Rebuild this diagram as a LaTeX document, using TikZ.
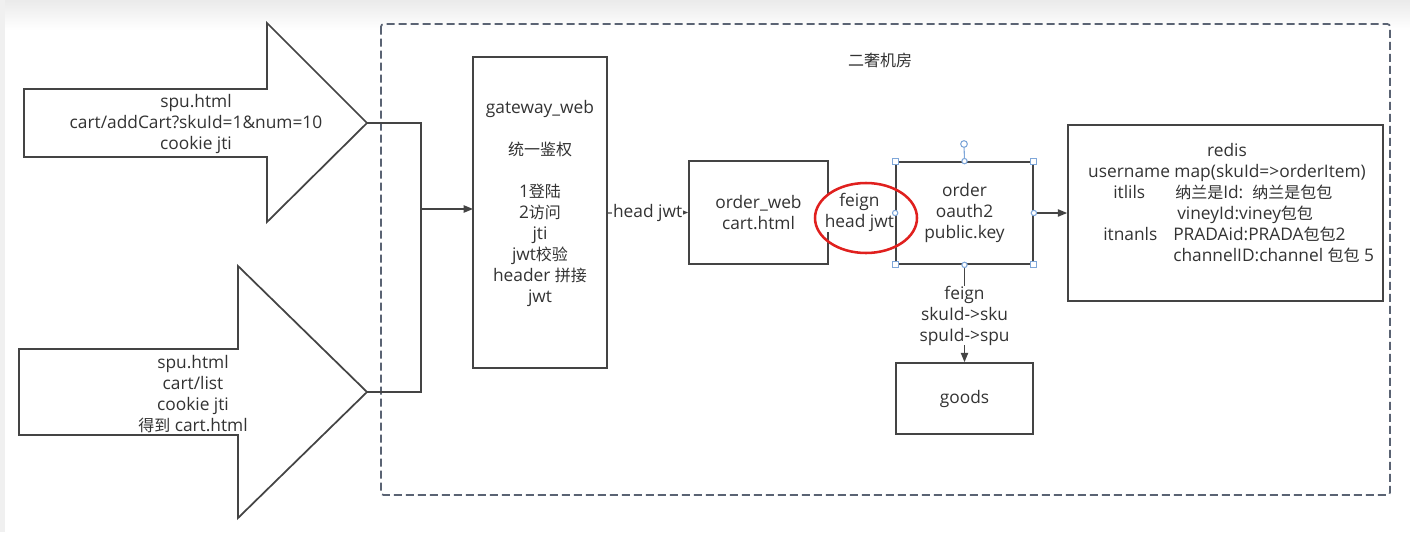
\documentclass[tikz,border=0pt]{standalone}
\usepackage{fontspec}
\setmainfont{Open Sans}
\newfontfamily\cjkfont{Noto Sans CJK SC}
\newcommand{\zh}[1]{{\cjkfont\fontsize{12}{15.75}\selectfont #1}}
\usetikzlibrary{arrows.meta}
\definecolor{txt}{HTML}{333333}
\definecolor{ln}{HTML}{444444}
\definecolor{dsh}{HTML}{5A6373}
\definecolor{hdl}{HTML}{7FA7D9}
\definecolor{redc}{HTML}{E0201E}
\tikzset{
  box/.style={draw=ln, line width=1.3pt, fill=white, inner sep=0pt, text=txt, align=center,
    font=\fontsize{13}{15.75}\selectfont},
  lbl/.style={text=txt, align=center, font=\fontsize{13}{15.75}\selectfont, inner sep=1pt},
  conn/.style={draw=ln, line width=1pt},
  arr/.style={conn, -{Triangle[length=7pt,width=5.5pt]}},
  bigarrow/.style={draw=ln, line width=1.3pt, fill=white, line join=miter},
  hsq/.style={draw=hdl, fill=white, line width=0.8pt, minimum size=4.5pt, inner sep=0pt},
  hci/.style={draw=hdl, fill=white, line width=0.8pt, circle, minimum size=5pt, inner sep=0pt},
}
\begin{document}
\begin{tikzpicture}[x=0.75pt,y=-0.75pt]
\useasboundingbox (0,0) rectangle (1410,532);
% background
\fill[white] (0,0) rectangle (1410,532);
\shade[top color={black!8}, bottom color=white] (0,0) rectangle (1410,30);
\fill[black!6] (0,0) rectangle (5,532);

% dashed container
\draw[dsh, line width=1.3pt, dash pattern=on 6pt off 3pt, rounded corners=2pt] (381,24) rectangle (1390,495);
\node[lbl] (title) at (880,60) {\zh{二奢机房}};

% big arrows
\draw[bigarrow] (24,89) -- (267,89) -- (267,23) -- (367,123) -- (267,222) -- (267,157) -- (24,157) -- cycle;
\node[lbl] (a1) at (196,124) {spu.html\\cart/addCart?skuId=1\&num=10\\cookie jti};
\draw[bigarrow] (19,349) -- (238,349) -- (238,266) -- (367,392) -- (238,518) -- (238,435) -- (19,435) -- cycle;
\node[lbl] (a2) at (193,394) {spu.html\\cart/list\\cookie jti\\\zh{得到} cart.html};
\coordinate (tip1) at (367,123);
\coordinate (tip2) at (367,392);
\coordinate (jn) at (421,209);

% boxes
\node[box, minimum width=100.5pt, minimum height=233.25pt] (gw) at (540,212.5) {};
\coordinate (gwW) at (473,209);
\coordinate (gwE) at (607,213);
\node[lbl] (gwt) at (540,203.5) {gateway\_web\\ \\\zh{统一鉴权}\\ \\1\zh{登陆}\\2\zh{访问}\\jti\\jwt\zh{校验}\\header \zh{拼接}\\jwt};

\node[box, minimum width=104.25pt, minimum height=77.25pt] (ow) at (758.5,212.5) {order\_web\\cart.html};
\node[box, minimum width=102.75pt, minimum height=76.5pt] (ord) at (964.5,213) {order\\oauth2\\public.key};
\node[box, minimum width=236.25pt, minimum height=132pt] (redis) at (1225.5,213) {};
\node[box, minimum width=102.75pt, minimum height=53.25pt] (goods) at (964.5,398.5) {goods};

% redis text
\node[lbl, anchor=base] (r0) at (1227,156) {redis};
\node[lbl, anchor=base] (r1) at (1227,177) {username map(skuId=>orderItem)};
\node[lbl, anchor=base west, inner sep=0pt] (r2a) at (1113,198) {itlils};
\node[lbl, anchor=base west, inner sep=0pt] (r2b) at (1175,198) {\zh{纳兰是}Id:\ \ \zh{纳兰是包包}};
\node[lbl, anchor=base west, inner sep=0pt] (r3) at (1177,219) {vineyId:viney\zh{包包}};
\node[lbl, anchor=base west, inner sep=0pt] (r4a) at (1103,240) {itnanls};
\node[lbl, anchor=base west, inner sep=0pt] (r4b) at (1173,240) {PRADAid:PRADA\zh{包包}2};
\node[lbl, anchor=base west, inner sep=0pt] (r5) at (1173,261) {channelID:channel \zh{包包} 5};

% connectors
\draw[conn] (tip1) -- (jn |- tip1) -- (jn |- tip2) -- (tip2);
\draw[arr] (jn) -- (gwW);
\draw[arr] (gwE) -- (ow.west) node[midway, fill=white, lbl, inner sep=1pt] (hj) {head jwt};
\draw[arr] (ow.east) -- (ord.west) node[midway, fill=white, lbl, inner sep=0pt, xshift=-2pt] (fh) {feign\\head jwt};
\draw[arr] (ord.east) -- (redis.west);
\draw[arr] (ord.south) -- (goods.north) node[pos=0.52, fill=white, lbl, inner sep=0pt] (fg) {feign\\skuId->sku\\spuId->spu};
% order box outline stays on top of the label's white ground
\draw[ln, line width=1.3pt] ([shift={(0.65pt,-0.65pt)}]ord.north west) rectangle ([shift={(-0.65pt,0.65pt)}]ord.south east);

% red ellipse
\draw[redc, line width=1.9pt] (866,218) ellipse [x radius=51, y radius=35];

% selection handles on order box
\coordinate (rot) at (964,144);
\draw[hdl, line width=0.8pt] (ord.north) -- (rot);
\node[hci] (h0) at (rot) {};
\foreach \a in {north west, north east, south west, south east} \node[hsq] at (ord.\a) {};
\foreach \a in {north, south, east, west} \node[hci, minimum size=4pt] at (ord.\a) {};
\end{tikzpicture}
\end{document}
